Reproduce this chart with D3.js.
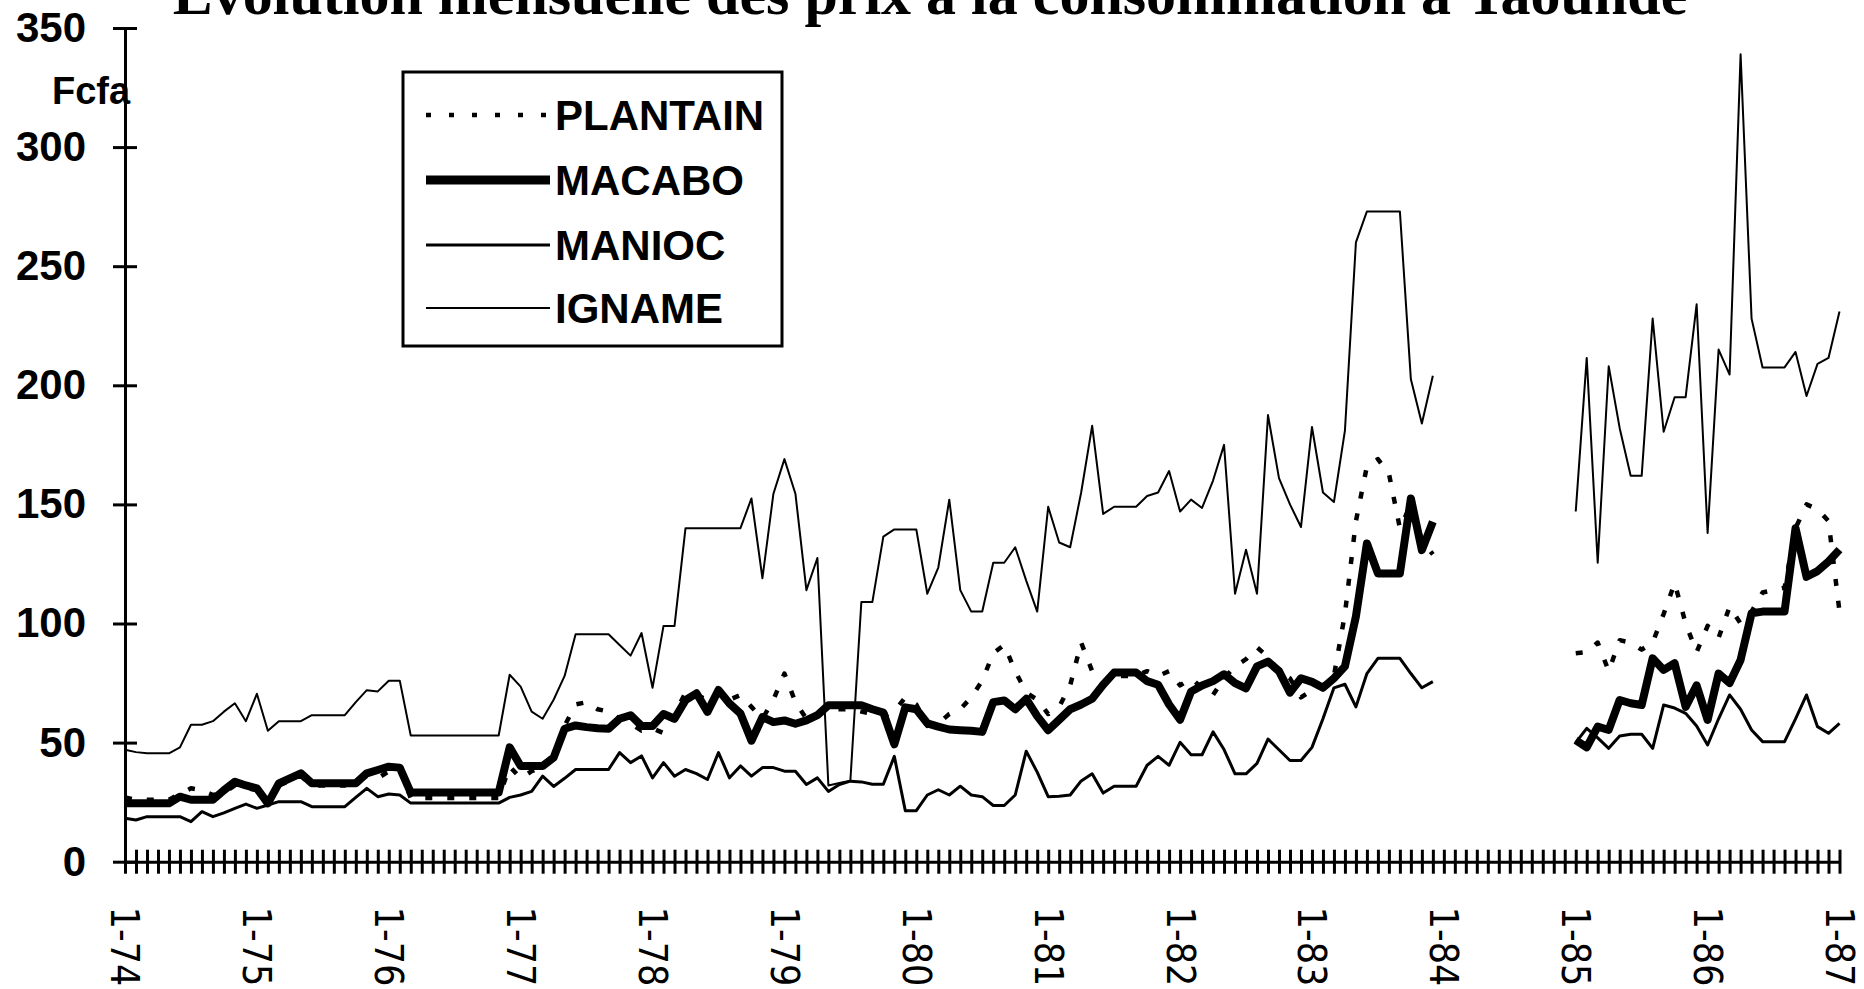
<!DOCTYPE html>
<html>
<head>
<meta charset="utf-8">
<script src="https://cdn.jsdelivr.net/npm/d3@7"></script>
<style>
  body { margin: 0; background: #fff; }
  svg { display: block; background: #fff; }
</style>
</head>
<body>
<svg id="chart"></svg>
<script>
// monthly prices, Jan 1974 (index 0) .. Jan 1987 (index 156), 1984 missing
let width = 1864;
let height = 989;

const titleText = "Evolution mensuelle des prix à la consommation à Yaoundé";
const unitLabel = "Fcfa";
const yearLabels = ["1-74", "1-75", "1-76", "1-77", "1-78", "1-79", "1-80",
                    "1-81", "1-82", "1-83", "1-84", "1-85", "1-86", "1-87"];
const yTicks = [0, 50, 100, 150, 200, 250, 300, 350];
const seriesNames = ["PLANTAIN", "MACABO", "MANIOC", "IGNAME"];
const gap84 = [null, null, null, null, null, null, null, null, null, null, null, null];

const plantain = [
  27, 26, 26, 26, 26, 28.5, 30.8, 30, 28, 29, 32, 31,                 // 1974
  30, 25, 32, 34, 36, 32, 32, 32, 32, 34, 36, 35,                     // 1975
  38, 39, 26.7, 26.7, 26.7, 26.7, 26.7, 26.7, 26.7, 26.7, 26.7, 40,   // 1976
  35, 38, 40, 45, 57, 66, 67, 64, 63, 60, 58, 55,                     // 1977
  56, 54, 62, 71, 70, 68, 72, 68, 70, 65, 60, 68,                     // 1978
  79, 67, 60, 62, 64, 64, 64, 63, 62, 61, 63, 69,                     // 1979
  66, 57, 58, 62, 64, 69, 76, 87.5, 91, 80, 71, 68,                   // 1980
  62, 65, 74, 92, 80, 75, 78, 78, 78, 80, 78, 80,                     // 1981
  74, 77, 73, 70, 77, 82, 85, 90, 86, 80, 77, 69,                     // 1982
  72, 74, 78, 104, 143, 166, 169, 163, 140, 150, 135, 129,            // 1983
  ...gap84,                                                           // 1984
  87.5, 88, 92, 80, 93, 92, 89, 92, 104, 117, 100, 88,                // 1985
  99, 94, 107, 100, 105, 113, 114, 115, 140, 150, 148, 143,           // 1986
  105                                                                 // 1987
];

const macabo = [
  24.5, 24.5, 24.5, 24.5, 24.5, 27.3, 26, 26, 26, 30, 33.6, 32,
  30.8, 24.5, 32.9, 35, 37.1, 32.9, 32.9, 32.9, 32.9, 32.9, 37.1, 38.5,
  39.9, 39.5, 29, 29, 29, 29, 29, 29, 29, 29, 29, 48,
  40.2, 40.2, 40.2, 43.7, 55.8, 57.2, 56.5, 56, 55.8, 60, 61.5, 57,
  57, 62, 60, 67.8, 70.7, 62.9, 72.1, 66.4, 62.2, 50.8, 60.7, 58.6,
  59.3, 57.9, 59.3, 61.5, 65.7, 65.7, 65.7, 65.7, 64, 62.6, 49.3, 64.8,
  64, 58.1, 56.7, 55.5, 55.2, 55, 54.5, 67, 67.7, 64, 68.4, 61.1,
  55.2, 59.6, 64, 66, 68.4, 74.3, 79.4, 79.4, 79.4, 75.8, 74.3, 66,
  59.6, 71.4, 74, 75.8, 78.7, 75, 72.8, 82, 84, 80, 71, 77,
  75.5, 73, 77, 82, 103, 133.6, 121, 121, 121, 152.5, 130.8, 142.7,
  ...gap84,
  51, 48, 56.7, 55.3, 67.9, 66.5, 65.8, 85.4, 80.5, 83.3, 65, 74,
  59.5, 79, 75, 84.7, 104.3, 105, 105, 105, 140, 119.6, 122, 126,
  131
];

const manioc = [
  18.2, 17.5, 18.9, 18.9, 18.9, 18.9, 16.8, 21, 18.9, 20.5, 22.4, 24.2,
  22.4, 23.8, 25.2, 25.2, 25.2, 23.1, 23.1, 23.1, 23.1, 27, 30.8, 27.3,
  28.4, 28, 24.6, 24.6, 24.6, 24.6, 24.6, 24.6, 24.6, 24.6, 24.6, 27,
  28, 29.5, 35.9, 31.6, 35, 38.7, 38.7, 38.7, 38.7, 45.8, 41.6, 44.4,
  35.2, 41.6, 35.9, 38.7, 37, 34.5, 45.8, 35.2, 40.2, 35.9, 39.5, 39.5,
  38, 38, 32.4, 35.2, 29.5, 32.4, 33.8, 33.5, 32.5, 32.5, 44.2, 21.4,
  21.4, 28, 30.2, 28, 31.7, 28, 27.3, 23.6, 23.6, 28, 46.4, 37.6,
  27.3, 27.5, 28, 33.9, 36.9, 28.8, 31.7, 31.7, 31.7, 40.5, 44.2, 40.5,
  50.1, 44.9, 44.9, 54.5, 47.1, 36.9, 36.9, 41.3, 51.5, 47, 42.5, 42.5,
  48, 60, 73, 74.5, 65, 79, 85.4, 85.4, 85.4, 79, 73, 75.6,
  ...gap84,
  50, 56, 52, 47.6, 52.8, 53.5, 53.5, 47.6, 65.8, 64.5, 62.3, 57,
  49, 60, 70, 64, 55.3, 50.4, 50.4, 50.4, 60, 70, 56.7, 53.9,
  58.1
];

const igname = [
  47, 46, 45.5, 45.5, 45.5, 48, 57.5, 57.5, 59, 63, 66.5, 59,
  70.5, 55, 59, 59, 59, 61.5, 61.5, 61.5, 61.5, 67, 72, 71.5,
  76, 76, 53, 53, 53, 53, 53, 53, 53, 53, 53, 78.5,
  73.5, 63, 60, 68, 78, 95.5, 95.5, 95.5, 95.5, 91, 86.5, 96,
  73, 99, 99, 140, 140, 140, 140, 140, 140, 152.5, 119, 154.5,
  169, 154.5, 114, 127.5, 32, 33, 34, 109, 109, 136.5, 139.5, 139.5,
  139.5, 112.5, 123.5, 152, 114, 105, 105, 125.5, 125.5, 132, 118, 105,
  149, 134, 132, 155, 183, 146, 149, 149, 149, 153.5, 155, 164,
  147, 152, 148.5, 160, 175, 112.5, 131, 112.5, 187.5, 161, 150, 140.5,
  182.5, 155, 151, 181, 260, 273, 273, 273, 273, 202.5, 184, 204,
  ...gap84,
  147, 211.5, 125.5, 208, 182, 162, 162, 228, 180.5, 195, 195, 234,
  138, 215, 204.5, 339, 228, 207.5, 207.5, 207.5, 214, 195.5, 209, 211.5,
  231
];

let svg = d3.select('#chart')
  .attr('width', width)
  .attr('height', height);

let x = d3.scaleLinear()
  .domain([0, 156])
  .range([125, 1839.5]);

let y = d3.scaleLinear()
  .domain([0, 350])
  .range([861.7, 28]);

// title (top of it falls outside the picture, as in the scan)
svg.append("text")
  .attr("x", 930)
  .attr("y", 14)
  .attr("text-anchor", "middle")
  .style("font-family", "'Liberation Serif', 'Times New Roman', serif")
  .style("font-weight", "bold")
  .style("font-size", "60px")
  .text(titleText);

// y axis with crossing ticks
let yAxis = svg.append("g")
  .attr("transform", `translate(${x(0)},0)`)
  .call(d3.axisLeft(y).tickValues(yTicks).tickSizeInner(12).tickSizeOuter(0).tickPadding(27));
yAxis.select(".domain").attr("stroke-width", 3);
yAxis.selectAll(".tick line").attr("x1", 12).attr("stroke-width", 3);
yAxis.selectAll(".tick text")
  .style("font-family", "'Liberation Sans', Arial, sans-serif")
  .style("font-weight", "bold")
  .style("font-size", "42px")
  .attr("fill", "#000");

svg.append("text")
  .attr("x", 52)
  .attr("y", 104)
  .style("font-family", "'Liberation Sans', Arial, sans-serif")
  .style("font-weight", "bold")
  .style("font-size", "38px")
  .text(unitLabel);

// x axis: a tick every month, a label every January
let xAxis = svg.append("g")
  .attr("transform", `translate(0,${y(0)})`)
  .call(d3.axisBottom(x)
    .tickValues(d3.range(0, 157))
    .tickSizeInner(12)
    .tickSizeOuter(0)
    .tickFormat(m => m % 12 === 0 ? yearLabels[m / 12] : ""));
xAxis.select(".domain").attr("stroke-width", 3);
xAxis.selectAll(".tick line").attr("y1", -12).attr("stroke-width", 3);
xAxis.selectAll(".tick text")
  .attr("transform", "rotate(90)")
  .attr("x", 45)
  .attr("y", 0)
  .attr("dy", "0.36em")
  .style("text-anchor", "start")
  .style("font-family", "'DejaVu Sans Condensed', 'DejaVu Sans', sans-serif")
  .style("font-stretch", "condensed")
  .style("font-size", "39px")
  .attr("fill", "#000");

let line = d3.line()
  .defined(d => d != null)
  .x((d, i) => x(i))
  .y(d => y(d));

let styles = {
  PLANTAIN: { data: plantain, width: 4.5, dash: "7 15" },
  MACABO:   { data: macabo,   width: 8,   dash: null },
  MANIOC:   { data: manioc,   width: 3,   dash: null },
  IGNAME:   { data: igname,   width: 2,   dash: null }
};

function addLine(name) {
  let s = styles[name];
  svg.append("path")
    .datum(s.data)
    .attr("fill", "none")
    .attr("stroke", "#000")
    .attr("stroke-width", s.width)
    .attr("stroke-linejoin", "round")
    .attr("stroke-dasharray", s.dash)
    .attr("series", name)
    .attr("d", line);
}

addLine("IGNAME");
addLine("MANIOC");
addLine("MACABO");
addLine("PLANTAIN");

// legend
let legend = svg.append("g");
legend.append("rect")
  .attr("x", 403)
  .attr("y", 72)
  .attr("width", 379)
  .attr("height", 274)
  .attr("fill", "#fff")
  .attr("stroke", "#000")
  .attr("stroke-width", 3);

let rowY = [115, 180, 245, 308];
seriesNames.forEach((name, i) => {
  let s = styles[name];
  legend.append("line")
    .attr("x1", 426)
    .attr("x2", 550)
    .attr("y1", rowY[i])
    .attr("y2", rowY[i])
    .attr("stroke", "#000")
    .attr("stroke-width", name === "MACABO" ? 9 : s.width)
    .attr("stroke-dasharray", name === "PLANTAIN" ? "5 18" : null);
  legend.append("text")
    .attr("x", 555)
    .attr("y", rowY[i] + 15)
    .style("font-family", "'Liberation Sans', Arial, sans-serif")
    .style("font-weight", "bold")
    .style("font-size", "42px")
    .text(name);
});
</script>
</body>
</html>
